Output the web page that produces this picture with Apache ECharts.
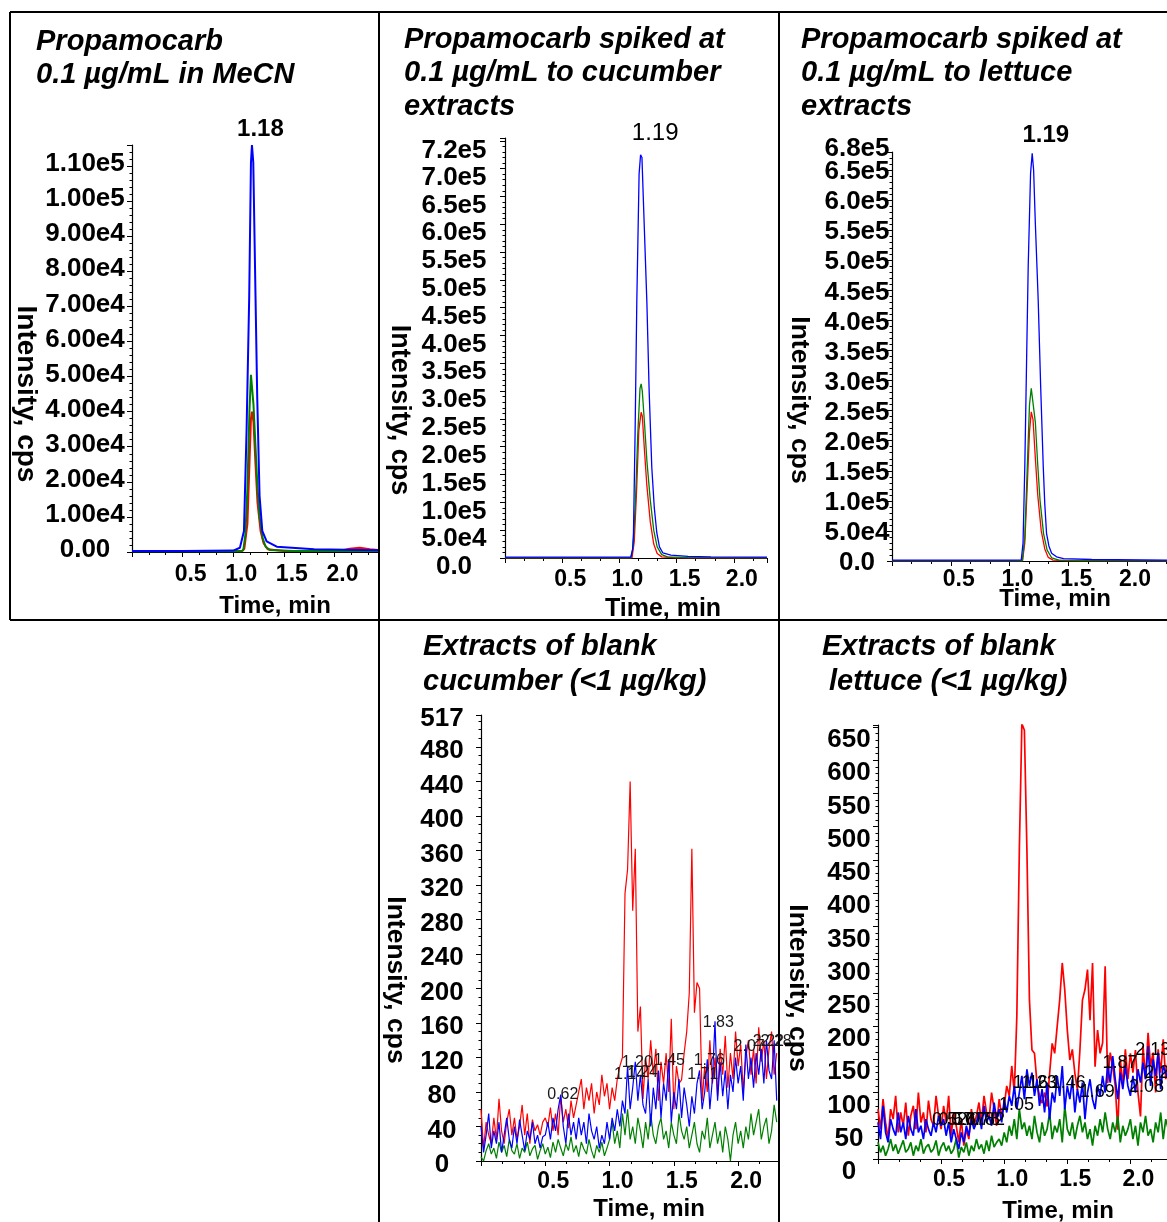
<!DOCTYPE html>
<html><head><meta charset="utf-8">
<script src="https://cdn.jsdelivr.net/npm/echarts@6/dist/echarts.min.js"></script>
<style>html,body{margin:0;padding:0;background:#fff}#c{width:1167px;height:1222px}</style>
</head><body><div id="c"></div>
<script>
// ---------- Panel 1: Propamocarb 0.1 µg/mL in MeCN ----------
const blue1 = [[0,300],[0.5,300],[1.00,400],[1.066,1200],[1.106,6000],[1.132,35000],[1.158,73000],[1.175,111000],[1.185,116000],[1.198,111000],[1.22,73000],[1.237,44000],[1.26,16000],[1.287,6000],[1.33,3000],[1.43,1500],[1.8,800],[2.43,500]];
const green1 = [[0,200],[1.08,200],[1.10,600],[1.12,5000],[1.14,18000],[1.16,40000],[1.175,50500],[1.185,50000],[1.20,42000],[1.22,30000],[1.24,18000],[1.26,10000],[1.29,4000],[1.32,1500],[1.36,600],[1.6,300],[2.43,300]];
const red1 = [[0,300],[1.09,300],[1.11,1000],[1.14,8000],[1.16,25000],[1.175,38000],[1.185,40000],[1.20,37000],[1.22,25000],[1.24,14000],[1.27,6000],[1.30,2500],[1.34,800],[1.5,300],[2.05,300],[2.15,900],[2.25,1200],[2.35,800],[2.43,600]];
const peak1 = [[1.18,116000]];

// ---------- Panel 2: spiked cucumber ----------
const blue2 = [[0,1500],[1.00,1500],[1.10,1800],[1.115,15000],[1.123,45000],[1.137,224000],[1.152,460000],[1.172,690000],[1.185,725000],[1.197,720000],[1.21,640000],[1.24,460000],[1.26,300000],[1.283,163000],[1.305,90000],[1.327,45000],[1.35,20000],[1.38,9000],[1.45,5000],[1.6,3000],[1.8,2000],[2.29,1500]];
const green2 = [[0,400],[1.10,400],[1.12,20000],[1.14,100000],[1.16,220000],[1.18,305000],[1.19,313000],[1.20,300000],[1.22,240000],[1.24,175000],[1.27,104000],[1.30,50000],[1.33,20000],[1.37,6000],[1.42,2000],[1.6,500],[2.29,400]];
const red2 = [[0,300],[1.11,300],[1.13,30000],[1.15,120000],[1.17,230000],[1.19,262000],[1.20,255000],[1.22,190000],[1.24,130000],[1.27,65000],[1.30,25000],[1.33,8000],[1.37,2000],[1.5,400],[2.29,300]];
const peak2 = [[1.19,725000]];

// ---------- Panel 3: spiked lettuce ----------
const blue3 = [[0,1500],[1.00,1500],[1.10,1800],[1.115,30000],[1.13,157000],[1.145,330000],[1.159,490000],[1.179,644000],[1.193,678000],[1.205,650000],[1.22,560000],[1.244,434000],[1.265,290000],[1.287,157000],[1.30,95000],[1.315,46000],[1.335,25000],[1.358,13000],[1.40,7000],[1.46,4000],[1.7,2500],[2.34,1500]];
const green3 = [[0,400],[1.11,400],[1.13,40000],[1.15,150000],[1.17,260000],[1.185,287000],[1.20,285000],[1.22,230000],[1.24,160000],[1.26,100000],[1.29,45000],[1.32,18000],[1.36,5000],[1.42,1500],[1.6,500],[2.34,400]];
const red3 = [[0,300],[1.11,300],[1.13,30000],[1.15,120000],[1.17,215000],[1.185,248000],[1.20,235000],[1.22,170000],[1.24,110000],[1.27,50000],[1.30,20000],[1.33,6000],[1.37,1500],[1.5,400],[2.34,300]];
const peak3 = [[1.19,678000]];

// ---------- Panel 4: blank cucumber (sampled every 0.02 min from 0) ----------
const dt = 0.02;
const red4 = [60,15,45,30,20,50,25,72,35,20,45,60,30,50,25,40,65,30,55,20,48,35,42,30,45,
  50,40,62,35,55,30,75,45,60,38,70,50,65,
  80,95,60,85,70,90,55,80,65,100,75,90,60,85,70,95,110,
  120,310,338,440,290,362,150,179,72,
  120,95,140,100,130,70,115,90,125,80,165,60,110,90,
  94,125,150,195,362,172,207,200,70,
  110,80,140,90,120,75,130,100,145,85,125,95,150,110,135,80,120,140,100,130,90,155,115,140,95,130,150,100,125];
const blue4 = [40,10,30,55,15,35,20,45,10,30,50,25,15,40,20,48,30,12,35,25,45,20,30,15,28,
  30,45,25,50,35,60,77,40,20,55,30,45,25,
  50,30,45,20,55,35,25,40,15,30,20,45,25,50,35,60,40,
  70,55,110,60,85,115,70,100,65,
  55,95,40,85,60,105,50,90,70,118,45,80,60,95,
  50,85,65,40,75,55,90,105,60,
  80,118,60,95,162,70,115,75,105,60,100,80,120,90,110,70,135,95,120,85,125,100,130,90,140,105,95,140,70];
const green4 = [5,0,12,20,8,15,3,22,10,18,5,25,12,8,20,3,15,10,22,6,14,18,2,12,20,8,16,4,22,10,25,15,6,20,12,28,10,18,5,22,14,8,25,12,3,18,10,22,6,15,
  25,45,20,35,15,55,30,60,25,40,20,50,35,15,45,25,55,30,20,40,50,25,35,15,45,30,20,55,35,25,
  40,15,30,45,20,10,35,25,50,15,30,45,20,35,10,40,25,0,30,45,20,35,15,40,25,55,30,45,60,25,
  40,50,20,35,65,45];
const peaks4 = [[0.62,77],[1.14,100],[1.20,114],[1.24,103],[1.45,116],[1.71,100],[1.76,116],[1.83,160],[2.07,133],[2.22,138],[2.28,138]];

// ---------- Panel 5: blank lettuce (sampled every 0.02 min from 0) ----------
const red5 = [75,45,90,55,30,75,60,95,40,70,50,85,35,65,80,45,100,55,70,40,88,60,50,95,65,
  45,80,55,95,35,70,50,25,60,20,45,30,75,50,65,
  85,55,95,70,60,100,75,50,90,65,80,110,95,
  140,100,214,465,655,645,465,239,164,159,114,95,84,100,79,129,174,159,200,240,295,254,194,149,165,129,104,
  164,239,255,285,209,295,139,194,159,175,290,114,160,139,110,44,150,110,165,120,159,130,164,100,64,170,120,190,140,160,100,165,130,180,120,150];
const blue5 = [55,30,80,40,25,60,45,35,70,40,55,30,65,45,35,75,40,50,30,60,45,35,55,40,65,
  50,60,35,55,25,45,30,15,40,25,50,35,60,45,55,
  70,45,80,55,65,50,85,60,75,55,90,70,95,
  80,110,75,100,125,90,135,110,130,95,120,
  80,105,70,115,60,100,85,125,95,140,75,110,90,120,
  70,105,85,115,60,100,120,90,75,110,95,125,100,140,115,155,120,
  90,130,105,140,110,95,125,100,135,115,145,120,170,110,150,125,160,105,140,130,120];
const green5 = [25,10,20,5,15,30,12,22,8,18,28,10,15,25,5,20,12,30,8,18,22,10,15,28,5,18,25,12,20,8,15,30,2,18,10,25,5,20,12,30,15,22,8,28,12,35,18,25,30,20,
  40,25,50,35,60,30,75,45,55,35,50,30,65,40,25,55,35,45,70,30,50,40,60,25,80,45,35,55,30,50,
  65,40,55,30,45,20,50,35,60,40,70,45,30,55,40,65,25,50,35,45,60,30,50,20,55,40,65,35,45,25,
  55,40,70,30,60,45];
const peaks5 = [[0.52,59],[0.57,59],[0.67,59],[0.78,59],[0.82,59],[1.05,81],[1.16,114],[1.23,114],[1.46,114],[1.69,101],[1.87,144],[2.08,108],[2.13,164],[2.20,129]];

// ---------- tick labels ----------
const xTicks = [0.5, 1.0, 1.5, 2.0];
const yTicks1 = [0,10000,20000,30000,40000,50000,60000,70000,80000,90000,100000,110000];
const yTicks2 = [0,50000,100000,150000,200000,250000,300000,350000,400000,450000,500000,550000,600000,650000,700000];
const yTop2 = [720000];
const yTicks3 = [0,50000,100000,150000,200000,250000,300000,350000,400000,450000,500000,550000,600000,650000];
const yTop3 = [680000];
const yTicks4 = [0,40,80,120,160,200,240,280,320,360,400,440,480,517];
const yTicks5 = [0,50,100,150,200,250,300,350,400,450,500,550,600,650];

// ---------- build ----------
const FONT = '"Liberation Sans", Arial, Helvetica, sans-serif';
const BLUE = '#0000ff', GREEN = '#008000', RED = '#ff0000';
const toPairs = arr => arr.map((v, i) => [Math.round(i * dt * 1000) / 1000, v]);

function sci(v, d) {
  if (v === 0) return (0).toFixed(d);
  const e = Math.floor(Math.log10(v) + 1e-9);
  return (v / Math.pow(10, e)).toFixed(d) + 'e' + e;
}
// vertical shift of y labels: positive = down
function yShift(d) {
  if (d >= 0) return {verticalAlign:'top', lineHeight:Math.max(2 * d, 0.5)};
  return {verticalAlign:'bottom', lineHeight:-2 * d};
}

const panels = [
  {grid:{left:132,top:145,width:246,height:407}, xmax:2.43, ymax:116000, yint:10000, ysplit:5, yticks:yTicks1, fmt:v=>sci(v,2), ym:47, ysh:-2, xm:23, lw:2,
   series:[red1,green1,blue1], peaks:peak1, peakFont:{fontSize:24,fontWeight:'bold'}, peakOff:[9,-16]},
  {grid:{left:505,top:138,width:262,height:420}, xmax:2.29, ymax:755000, yint:50000, ysplit:5, yticks:yTicks2, fmt:v=>sci(v,1), ym:51, ysh:9, xm:22, lw:1.3,
   series:[red2,green2,blue2], peaks:peak2, peakFont:{fontSize:24,fontWeight:'normal'}, peakOff:[14,-21],
   top:{vals:yTop2, sh:-7}},
  {grid:{left:892,top:152,width:275,height:409}, xmax:2.34, ymax:680000, yint:50000, ysplit:5, yticks:yTicks3, fmt:v=>sci(v,1), ym:35, ysh:2, xm:19, lw:1.3,
   series:[red3,green3,blue3], peaks:peak3, peakFont:{fontSize:24,fontWeight:'bold'}, peakOff:[14,-18],
   top:{vals:yTop3, sh:-3}},
  {grid:{left:481,top:715,width:297,height:446}, xmax:2.31, ymax:517, yint:40, ysplit:4, yticks:yTicks4, fmt:v=>String(v), ym:39, ysh:4, xm:21, lw:1.2,
   series:[toPairs(red4),toPairs(green4),toPairs(blue4)], peaks:peaks4, peakFont:{fontSize:16,fontWeight:'normal',color:'#1a1a1a'}, peakOff:[2,0]},
  {grid:{left:878,top:725,width:289,height:434}, xmax:2.29, ymax:653, yint:50, ysplit:5, yticks:yTicks5, fmt:v=>String(v), ym:29, ysh:13, xm:21, lw:1.7,
   series:[toPairs(red5),toPairs(green5),toPairs(blue5)], peaks:peaks5, peakFont:{fontSize:18,fontWeight:'normal',color:'#000'}, peakOff:[6,0]}
];

const grids = [], xAxes = [], yAxes = [], series = [];
const extraY = [];
panels.forEach((p, i) => {
  grids.push(Object.assign({outerBoundsMode:'none', containLabel:false}, p.grid));
  xAxes.push({
    type:'value', gridIndex:i, min:0, max:p.xmax, interval:0.5,
    axisLine:{show:true, onZero:false, lineStyle:{color:'#000', width:1.2}},
    axisTick:{show:true, length:5, lineStyle:{color:'#000'}},
    minorTick:{show:true, splitNumber:3, length:3, lineStyle:{color:'#000'}},
    splitLine:{show:false},
    axisLabel:{customValues:xTicks, formatter:v=>v.toFixed(1), fontFamily:FONT, fontSize:23, fontWeight:'bold', color:'#000',
      verticalAlign:'middle', margin:p.xm, padding:[0,0,0,16], showMinLabel:true, showMaxLabel:true}
  });
  yAxes.push({
    type:'value', gridIndex:i, min:0, max:p.ymax, interval:p.yint,
    axisLine:{show:true, onZero:false, lineStyle:{color:'#000', width:1.2}},
    axisTick:{show:true, length:5, lineStyle:{color:'#000'}},
    minorTick:{show:true, splitNumber:p.ysplit, length:2.5, lineStyle:{color:'#000'}},
    splitLine:{show:false},
    axisLabel:Object.assign({customValues:p.yticks, formatter:p.fmt, fontFamily:FONT, fontSize:26, fontWeight:'bold', color:'#000',
      align:'center', margin:p.ym, showMinLabel:true, showMaxLabel:true, hideOverlap:false}, yShift(p.ysh))
  });
  if (p.top) {
    // separate axis for the max-intensity label at the top of the axis
    extraY.push({
      type:'value', gridIndex:i, min:0, max:p.ymax, position:'left',
      axisLine:{show:false}, axisTick:{show:false}, splitLine:{show:false},
      axisLabel:Object.assign({customValues:p.top.vals, formatter:p.fmt, fontFamily:FONT, fontSize:26, fontWeight:'bold', color:'#000',
        align:'center', margin:p.ym, showMinLabel:true, showMaxLabel:true}, yShift(p.top.sh))
    });
  }
  const cols = [RED, GREEN, BLUE];
  p.series.forEach((d, k) => {
    series.push({type:'line', xAxisIndex:i, yAxisIndex:i, data:d, showSymbol:false, symbol:'none',
      lineStyle:{color:cols[k], width:p.lw}, itemStyle:{color:cols[k]}, clip:true, animation:false, z:2+k});
  });
  const fs = p.peakFont.fontSize;
  series.push({type:'scatter', xAxisIndex:i, yAxisIndex:i, data:p.peaks, symbolSize:1,
    itemStyle:{color:'rgba(255,255,255,0)', opacity:1}, silent:true, z:10, animation:false,
    label:{show:true, position:'top', distance:0, offset:[p.peakOff[0], p.peakOff[1] + fs / 2 + 0.5], formatter:q=>q.value[0].toFixed(2),
      fontFamily:FONT, fontSize:fs, fontWeight:p.peakFont.fontWeight, color:p.peakFont.color || '#000', opacity:1, textBorderWidth:0}});
});
extraY.forEach(a => yAxes.push(a));

function txt(s, x, y, size, opts) {
  opts = opts || {};
  return {type:'text', x:x, y:y, rotation:opts.rot || 0, z:20, silent:true,
    style:{text:s, fill:'#000', fontFamily:FONT, fontSize:size, fontWeight:'bold', fontStyle:opts.italic ? 'italic' : 'normal',
      textAlign:opts.align || 'left', textVerticalAlign:'middle'}};
}
function ln(x1, y1, x2, y2) {
  return {type:'line', shape:{x1:x1, y1:y1, x2:x2, y2:y2}, style:{stroke:'#000', lineWidth:2}, z:30, silent:true};
}
const TS = 29;
const graphics = [
  ln(10,12,1167,12), ln(10,12,10,620), ln(379,12,379,1222), ln(779,12,779,1222), ln(10,620,1167,620),
  txt('Propamocarb', 36, 42, TS, {italic:true}),
  txt('0.1 µg/mL in MeCN', 36, 75, TS, {italic:true}),
  txt('Propamocarb spiked at', 404, 40, TS, {italic:true}),
  txt('0.1 µg/mL to cucumber', 404, 73, TS, {italic:true}),
  txt('extracts', 404, 107, TS, {italic:true}),
  txt('Propamocarb spiked at', 801, 40, TS, {italic:true}),
  txt('0.1 µg/mL to lettuce', 801, 73, TS, {italic:true}),
  txt('extracts', 801, 107, TS, {italic:true}),
  txt('Extracts of blank', 423, 647, TS, {italic:true}),
  txt('cucumber (<1 µg/kg)', 423, 682, TS, {italic:true}),
  txt('Extracts of blank', 822, 647, TS, {italic:true}),
  txt('lettuce (<1 µg/kg)', 829, 682, TS, {italic:true}),
  txt('Time, min', 275, 606, 24, {align:'center'}),
  txt('Time, min', 663, 609, 25, {align:'center'}),
  txt('Time, min', 1055, 599, 24, {align:'center'}),
  txt('Time, min', 649, 1209, 24, {align:'center'}),
  txt('Time, min', 1058, 1211, 24, {align:'center'}),
  txt('Intensity, cps', 26, 394, 28, {align:'center', rot:-Math.PI/2}),
  txt('Intensity, cps', 399, 410, 27, {align:'center', rot:-Math.PI/2}),
  txt('Intensity, cps', 799, 400, 26.5, {align:'center', rot:-Math.PI/2}),
  txt('Intensity, cps', 395, 980, 26.5, {align:'center', rot:-Math.PI/2}),
  txt('Intensity, cps', 797, 988, 26.5, {align:'center', rot:-Math.PI/2})
];

const chart = echarts.init(document.getElementById('c'), null, {renderer:'canvas'});
chart.setOption({
  animation:false, backgroundColor:'#fff',
  grid:grids, xAxis:xAxes, yAxis:yAxes, series:series, graphic:graphics
});
</script></body></html>
